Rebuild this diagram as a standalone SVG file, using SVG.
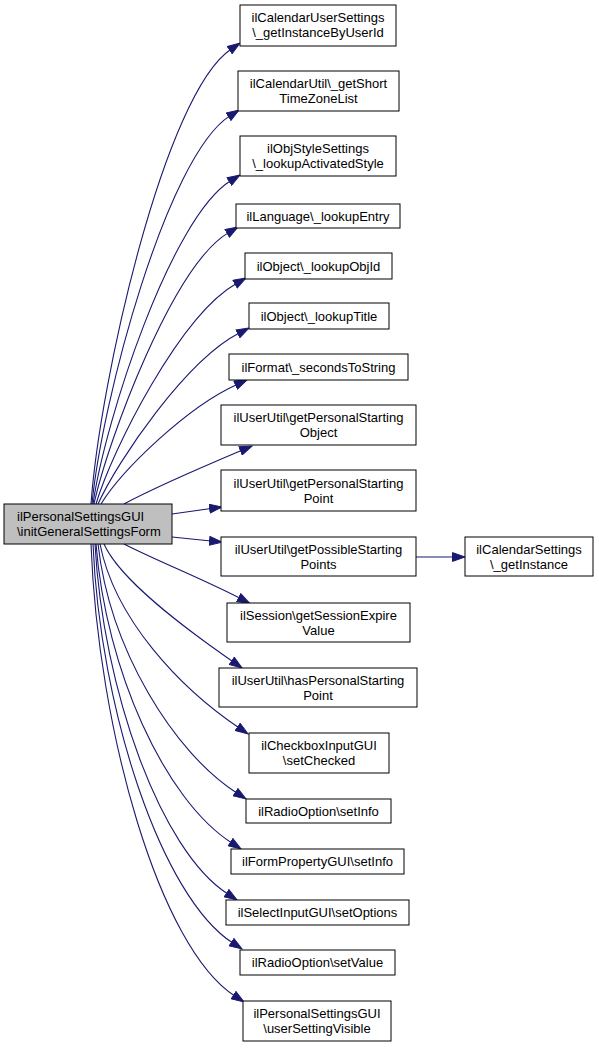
<svg xmlns="http://www.w3.org/2000/svg" width="599" height="1048" viewBox="0 0 599 1048">
<style>
.n rect{fill:#ffffff;stroke:#000000;stroke-width:1}
.m rect{fill:#bfbfbf;stroke:#000000;stroke-width:1}
text{font-family:"Liberation Sans",Arial,sans-serif;font-size:13px;fill:#000000}
.c{text-anchor:middle}
.e path{fill:none;stroke:#191970;stroke-width:1.1;marker-end:url(#ah)}
</style>
<defs>
<marker id="ah" markerUnits="userSpaceOnUse" markerWidth="14" markerHeight="10" refX="2" refY="5" orient="auto" viewBox="0 0 14 10">
<path d="M0.5,0.6 L13,5 L0.5,9.4 z" fill="#191970" stroke="#191970" stroke-width="1"/>
</marker>
</defs>
<rect width="599" height="1048" fill="#ffffff"/>
<g id="edges" class="e">
<path d="M91,504 C100,380 164.5,94 230.9,49.2"/>
<path d="M92,504 C102,400 166.8,156.4 229.8,115.9"/>
<path d="M93,504 C105,420 171,218 230.6,180.8"/>
<path d="M94,504 C108,440 172.6,265.8 228.5,232.6"/>
<path d="M96,504 C112,450 179.9,315.3 236.4,283.4"/>
<path d="M98,504 C118,460 185.8,360.7 239.2,333.1"/>
<path d="M101,504 C122,470 187,407 237,384.5"/>
<path d="M124,504 C150,490 200,468 241.9,450.3"/>
<path d="M172,514 L211.1,508.5"/>
<path d="M172,537 L211,541"/>
<path d="M416,557 L454,557"/>
<path d="M124,544 C155,560 205,580 240,598.3"/>
<path d="M104,544 C120,580 183.8,627.5 233,661.7"/>
<path d="M100,544 C115,620 180.8,688.6 238.9,727.8"/>
<path d="M98,544 C110,650 173.8,752.5 236.8,793"/>
<path d="M96,544 C106,670 164.6,799.8 231.8,843"/>
<path d="M95,544 C103,690 160.6,850.8 227.8,894"/>
<path d="M93,544 C100,710 161.4,897 232.8,943"/>
<path d="M91,544 C98,730 159.2,947.4 234.8,996"/>
</g>
<g id="main" class="m"><rect x="4" y="504" width="168" height="40"/><text x="17" y="521">ilPersonalSettingsGUI</text><text x="17" y="536">\initGeneralSettingsForm</text></g>
<g id="n1" class="n"><rect x="240" y="5" width="156" height="41"/><text class="c" x="318" y="22">ilCalendarUserSettings</text><text class="c" x="318" y="37">\_getInstanceByUserId</text></g>
<g id="n2" class="n"><rect x="238" y="71" width="161" height="40"/><text class="c" x="318.5" y="88">ilCalendarUtil\_getShort</text><text class="c" x="318.5" y="103">TimeZoneList</text></g>
<g id="n3" class="n"><rect x="240" y="136" width="156" height="40"/><text class="c" x="318" y="153">ilObjStyleSettings</text><text class="c" x="318" y="168">\_lookupActivatedStyle</text></g>
<g id="n4" class="n"><rect x="236" y="204" width="164" height="24"/><text class="c" x="318" y="220.5">ilLanguage\_lookupEntry</text></g>
<g id="n5" class="n"><rect x="245" y="253" width="147" height="26"/><text class="c" x="318.5" y="270.5">ilObject\_lookupObjId</text></g>
<g id="n6" class="n"><rect x="249" y="303" width="140" height="26"/><text class="c" x="319" y="320.5">ilObject\_lookupTitle</text></g>
<g id="n7" class="n"><rect x="229" y="354" width="179" height="26"/><text class="c" x="318.5" y="371.5">ilFormat\_secondsToString</text></g>
<g id="n8" class="n"><rect x="221" y="405" width="195" height="40"/><text class="c" x="318.5" y="422">ilUserUtil\getPersonalStarting</text><text class="c" x="318.5" y="437">Object</text></g>
<g id="n9" class="n"><rect x="221" y="470" width="195" height="41"/><text class="c" x="318.5" y="487.5">ilUserUtil\getPersonalStarting</text><text class="c" x="318.5" y="502.5">Point</text></g>
<g id="n10" class="n"><rect x="221" y="537" width="195" height="39"/><text class="c" x="318.5" y="553.5">ilUserUtil\getPossibleStarting</text><text class="c" x="318.5" y="568.5">Points</text></g>
<g id="n10a" class="n"><rect x="465" y="537" width="128" height="39"/><text class="c" x="529" y="553.5">ilCalendarSettings</text><text class="c" x="529" y="568.5">\_getInstance</text></g>
<g id="n11" class="n"><rect x="227" y="603" width="183" height="39"/><text class="c" x="318.5" y="619.5">ilSession\getSessionExpire</text><text class="c" x="318.5" y="634.5">Value</text></g>
<g id="n12" class="n"><rect x="219" y="668" width="198" height="39"/><text class="c" x="318" y="684.5">ilUserUtil\hasPersonalStarting</text><text class="c" x="318" y="699.5">Point</text></g>
<g id="n13" class="n"><rect x="249" y="733" width="140" height="40"/><text class="c" x="319" y="750">ilCheckboxInputGUI</text><text class="c" x="319" y="765">\setChecked</text></g>
<g id="n14" class="n"><rect x="246" y="799" width="145" height="24"/><text class="c" x="318.5" y="815.5">ilRadioOption\setInfo</text></g>
<g id="n15" class="n"><rect x="231" y="849" width="173" height="25"/><text class="c" x="317.5" y="866">ilFormPropertyGUI\setInfo</text></g>
<g id="n16" class="n"><rect x="226" y="900" width="183" height="25"/><text class="c" x="317.5" y="917">ilSelectInputGUI\setOptions</text></g>
<g id="n17" class="n"><rect x="240" y="950" width="155" height="25"/><text class="c" x="317.5" y="967">ilRadioOption\setValue</text></g>
<g id="n18" class="n"><rect x="243" y="1001" width="148" height="40"/><text class="c" x="317" y="1018">ilPersonalSettingsGUI</text><text class="c" x="317" y="1033">\userSettingVisible</text></g>
</svg>
